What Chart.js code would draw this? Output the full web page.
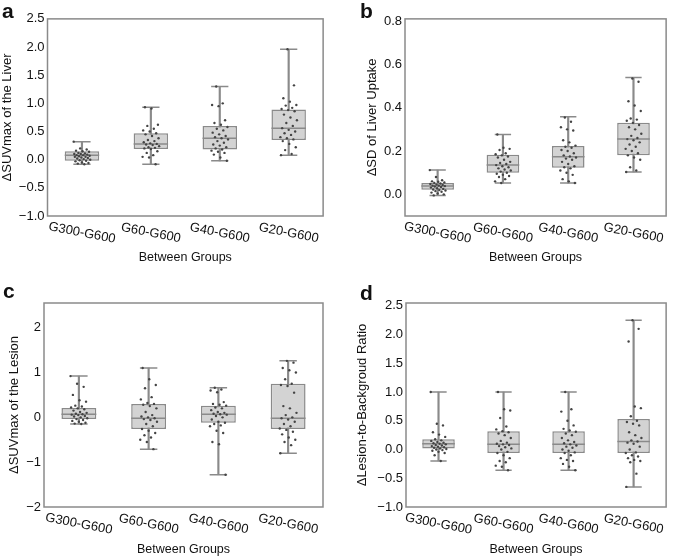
<!DOCTYPE html>
<html>
<head>
<meta charset="utf-8">
<script src="https://cdn.jsdelivr.net/npm/chart.js@4.4.0/dist/chart.umd.min.js"></script>
<style>
  body { margin: 0; background: #fff; }
  #wrap { position: relative; width: 685px; height: 558px; }
  canvas { position: absolute; }
</style>
</head>
<body>
<div id="wrap">
  <canvas id="pa" width="342" height="270" style="left:0;top:0"></canvas>
  <canvas id="pb" width="343" height="270" style="left:342px;top:0"></canvas>
  <canvas id="pc" width="342" height="288" style="left:0;top:270px"></canvas>
  <canvas id="pd" width="343" height="288" style="left:342px;top:270px"></canvas>
</div>
<script>
const groups = ['G300-G600', 'G60-G600', 'G40-G600', 'G20-G600'];

// a: ΔSUVmax of the liver
const aLow  = [-0.08, -0.08, -0.02, 0.08];
const aQ1   = [-0.02, 0.19, 0.18, 0.35];
const aMed  = [0.08, 0.28, 0.38, 0.56];
const aQ3   = [0.15, 0.47, 0.60, 0.89];
const aHigh = [0.32, 0.93, 1.30, 1.96];
const aPts = [
  [0.32, 0.20, 0.18, 0.16, 0.15, 0.14, 0.12, 0.11, 0.10, 0.10, 0.09, 0.08, 0.08, 0.07, 0.06, 0.05, 0.05, 0.04, 0.03, 0.02, 0.01, 0.00, -0.01, -0.02, -0.03, -0.05, -0.06, -0.07, -0.08],
  [0.93, 0.91, 0.62, 0.60, 0.55, 0.52, 0.50, 0.47, 0.45, 0.42, 0.38, 0.35, 0.33, 0.31, 0.29, 0.28, 0.27, 0.26, 0.24, 0.22, 0.21, 0.20, 0.19, 0.15, 0.12, 0.08, 0.05, 0.04, -0.08],
  [1.30, 1.00, 0.97, 0.95, 0.70, 0.65, 0.62, 0.58, 0.55, 0.52, 0.48, 0.45, 0.42, 0.40, 0.38, 0.36, 0.33, 0.30, 0.27, 0.25, 0.22, 0.20, 0.18, 0.16, 0.14, 0.12, 0.09, 0.04, -0.02],
  [1.96, 1.32, 1.09, 1.03, 0.97, 0.96, 0.92, 0.90, 0.88, 0.86, 0.80, 0.75, 0.70, 0.65, 0.60, 0.56, 0.53, 0.50, 0.47, 0.44, 0.40, 0.38, 0.36, 0.33, 0.28, 0.22, 0.17, 0.10, 0.08]
];

// b: ΔSD of liver uptake
const bLow  = [-0.005, 0.052, 0.052, 0.103];
const bQ1   = [0.021, 0.100, 0.123, 0.181];
const bMed  = [0.039, 0.135, 0.174, 0.256];
const bQ3   = [0.052, 0.183, 0.223, 0.330];
const bHigh = [0.112, 0.276, 0.358, 0.539];
const bPts = [
  [0.112, 0.08, 0.065, 0.06, 0.058, 0.055, 0.052, 0.05, 0.048, 0.045, 0.043, 0.04, 0.04, 0.038, 0.036, 0.034, 0.031, 0.028, 0.025, 0.022, 0.02, 0.018, 0.015, 0.012, 0.008, 0.004, 0.0, -0.005],
  [0.276, 0.215, 0.21, 0.205, 0.19, 0.185, 0.18, 0.175, 0.17, 0.16, 0.15, 0.145, 0.14, 0.135, 0.13, 0.125, 0.12, 0.115, 0.11, 0.105, 0.10, 0.095, 0.09, 0.085, 0.08, 0.07, 0.06, 0.052],
  [0.355, 0.335, 0.31, 0.30, 0.295, 0.25, 0.24, 0.225, 0.22, 0.215, 0.205, 0.20, 0.19, 0.18, 0.175, 0.17, 0.165, 0.16, 0.15, 0.14, 0.13, 0.125, 0.12, 0.11, 0.10, 0.09, 0.07, 0.06, 0.052],
  [0.535, 0.52, 0.43, 0.41, 0.385, 0.35, 0.345, 0.34, 0.33, 0.32, 0.31, 0.30, 0.28, 0.27, 0.26, 0.255, 0.25, 0.24, 0.23, 0.22, 0.21, 0.20, 0.19, 0.18, 0.17, 0.16, 0.125, 0.11, 0.103]
];

// c: ΔSUVmax of the lesion
const cLow  = [-0.15, -0.71, -1.28, -0.80];
const cQ1   = [-0.04, -0.26, -0.12, -0.26];
const cMed  = [0.07, -0.02, 0.07, -0.02];
const cQ3   = [0.21, 0.30, 0.26, 0.75];
const cHigh = [0.92, 1.10, 0.66, 1.26];
const cPts = [
  [0.92, 0.75, 0.68, 0.50, 0.38, 0.35, 0.26, 0.24, 0.22, 0.20, 0.18, 0.15, 0.12, 0.10, 0.08, 0.07, 0.06, 0.05, 0.03, 0.02, 0.00, -0.02, -0.04, -0.06, -0.08, -0.10, -0.12, -0.14, -0.15],
  [1.10, 0.85, 0.72, 0.65, 0.45, 0.40, 0.32, 0.30, 0.28, 0.25, 0.20, 0.12, 0.05, 0.02, 0.00, -0.02, -0.04, -0.06, -0.10, -0.15, -0.20, -0.26, -0.30, -0.35, -0.40, -0.45, -0.50, -0.55, -0.71],
  [0.66, 0.62, 0.60, 0.56, 0.34, 0.30, 0.28, 0.26, 0.22, 0.20, 0.16, 0.12, 0.10, 0.08, 0.07, 0.06, 0.03, 0.00, -0.05, -0.10, -0.12, -0.15, -0.18, -0.20, -0.30, -0.35, -0.55, -0.60, -1.28],
  [1.26, 1.22, 1.10, 1.05, 1.00, 0.85, 0.75, 0.72, 0.70, 0.55, 0.25, 0.20, 0.10, 0.05, 0.00, -0.02, -0.05, -0.10, -0.15, -0.20, -0.25, -0.28, -0.32, -0.38, -0.45, -0.50, -0.55, -0.62, -0.80]
];

// d: Δlesion-to-background ratio
const dLow  = [-0.20, -0.36, -0.36, -0.65];
const dQ1   = [0.02, -0.06, -0.06, -0.06];
const dMed  = [0.10, 0.09, 0.09, 0.14];
const dQ3   = [0.18, 0.32, 0.32, 0.53];
const dHigh = [1.00, 1.00, 1.00, 2.25];
const dPts = [
  [1.00, 0.45, 0.42, 0.30, 0.26, 0.22, 0.18, 0.16, 0.15, 0.13, 0.12, 0.11, 0.10, 0.09, 0.08, 0.07, 0.06, 0.05, 0.04, 0.03, 0.02, 0.01, 0.00, -0.01, -0.02, -0.04, -0.06, -0.10, -0.20],
  [1.00, 0.70, 0.68, 0.55, 0.40, 0.35, 0.32, 0.30, 0.28, 0.25, 0.20, 0.15, 0.12, 0.10, 0.09, 0.08, 0.06, 0.04, 0.02, 0.00, -0.04, -0.06, -0.10, -0.15, -0.20, -0.22, -0.28, -0.30, -0.36],
  [1.00, 0.70, 0.66, 0.50, 0.42, 0.36, 0.33, 0.31, 0.28, 0.25, 0.20, 0.16, 0.13, 0.11, 0.09, 0.07, 0.05, 0.03, 0.00, -0.02, -0.05, -0.06, -0.10, -0.15, -0.18, -0.20, -0.25, -0.30, -0.36],
  [2.25, 2.10, 1.88, 0.75, 0.72, 0.58, 0.50, 0.48, 0.45, 0.42, 0.30, 0.25, 0.20, 0.16, 0.14, 0.12, 0.10, 0.05, 0.00, -0.05, -0.06, -0.10, -0.12, -0.15, -0.18, -0.20, -0.22, -0.42, -0.65]
];

const FONT = '"Liberation Sans", Arial, sans-serif';
const GREY = '#8a8a8a';

// strip-plot spread, same for every group
function jitter(j) {
  return (((j * 11) % 29) / 28 - 0.5) * 0.24;
}

function panel(id, letter, yTitle, low, q1, med, q3, high, pts, y, geo) {
  const strip = [];
  pts.forEach((arr, i) => arr.forEach((v, j) => strip.push({ x: i + jitter(j + i * 3), y: v })));

  const areaW = c => (c.chart.chartArea ? c.chart.chartArea.right - c.chart.chartArea.left : 278);

  const extras = {
    id: 'extras' + letter,
    afterDraw(chart) {
      const { ctx, chartArea: a } = chart;
      const xs = chart.scales.x;
      ctx.save();
      ctx.strokeStyle = GREY;
      ctx.lineWidth = 1.5;
      ctx.strokeRect(a.left, a.top, a.right - a.left, a.bottom - a.top);
      // slanted group labels
      ctx.fillStyle = '#111';
      ctx.font = '13px ' + FONT;
      ctx.textAlign = 'center';
      ctx.textBaseline = 'middle';
      groups.forEach((g, i) => {
        ctx.save();
        ctx.translate(xs.getPixelForTick(i), a.bottom + 17);
        ctx.rotate(11 * Math.PI / 180);
        ctx.fillText(g, 0, 0);
        ctx.restore();
      });
      ctx.font = 'bold 21px ' + FONT;
      ctx.textAlign = 'left';
      ctx.textBaseline = 'alphabetic';
      ctx.fillText(letter, geo.lx, geo.ly);
      ctx.restore();
    }
  };

  return new Chart(document.getElementById(id), {
    type: 'bar',
    data: {
      labels: groups,
      datasets: [
        { type: 'scatter', xAxisID: 'xj', data: strip, pointRadius: 1.2, pointBackgroundColor: '#444', pointBorderWidth: 0, order: 0 },
        { type: 'line', data: med, showLine: false, pointStyle: 'line', pointRadius: c => areaW(c) / 16, pointBorderColor: GREY, pointBorderWidth: 1.5, order: 1 },
        { type: 'line', data: low, showLine: false, pointStyle: 'line', pointRadius: c => areaW(c) / 32, pointBorderColor: GREY, pointBorderWidth: 1.5, order: 1 },
        { type: 'line', data: high, showLine: false, pointStyle: 'line', pointRadius: c => areaW(c) / 32, pointBorderColor: GREY, pointBorderWidth: 1.5, order: 1 },
        { type: 'bar', data: q1.map((v, i) => [v, q3[i]]), backgroundColor: '#d3d3d3', borderColor: GREY, borderWidth: 1.5, borderSkipped: false, barPercentage: 0.5, categoryPercentage: 1, grouped: false, order: 2 },
        { type: 'bar', data: low.map((v, i) => [v, high[i]]), backgroundColor: GREY, barThickness: 1.5, grouped: false, order: 3 }
      ]
    },
    options: {
      responsive: false,
      animation: false,
      events: [],
      layout: { padding: { left: geo.pl, right: geo.pr, top: geo.pt, bottom: 0 } },
      plugins: { legend: { display: false }, tooltip: { enabled: false } },
      scales: {
        x: {
          grid: { display: false, drawTicks: false },
          border: { display: false },
          ticks: { display: false },
          title: { display: true, text: 'Between Groups', color: '#111', font: { size: 12.5, family: FONT }, padding: { top: 0, bottom: geo.tb } },
          afterFit: s => { s.height = geo.xh; }
        },
        xj: { type: 'linear', axis: 'x', display: false, offset: false, grid: { offset: false }, min: -0.5, max: 3.5 },
        y: {
          min: y.min,
          max: y.max,
          grid: { display: false, drawTicks: false },
          border: { display: false },
          ticks: {
            stepSize: y.step,
            includeBounds: false,
            padding: 3,
            color: '#111',
            font: { size: 13, family: FONT },
            callback: v => (Math.abs(v) < 1e-9 ? 0 : v).toFixed(y.dec).replace('-', '\u2212')
          },
          title: { display: true, text: yTitle, color: '#111', font: { size: 13, family: FONT }, padding: 0 },
          afterFit: s => { s.width = geo.yw; }
        }
      }
    },
    plugins: [extras]
  });
}

panel('pa', 'a', '\u0394SUVmax of the Liver', aLow, aQ1, aMed, aQ3, aHigh, aPts,
  { min: -1, max: 2.5, step: 0.5, dec: 1 },
  { pl: 0, pr: 17, pt: 14, yw: 47.5, xh: 54, tb: 4.5, lx: 2, ly: 18 });
panel('pb', 'b', '\u0394SD of Liver Uptake', bLow, bQ1, bMed, bQ3, bHigh, bPts,
  { min: -0.1, max: 0.81, step: 0.2, dec: 1 },
  { pl: 23, pr: 2, pt: 14, yw: 40, xh: 54, tb: 4.5, lx: 18, ly: 18 });
panel('pc', 'c', '\u0394SUVmax of the Lesion', cLow, cQ1, cMed, cQ3, cHigh, cPts,
  { min: -2, max: 2.55, step: 1, dec: 0 },
  { pl: 7, pr: 19, pt: 33, yw: 37, xh: 51, tb: 0.5, lx: 3, ly: 28 });
panel('pd', 'd', '\u0394Lesion-to-Backgroud Ratio', dLow, dQ1, dMed, dQ3, dHigh, dPts,
  { min: -1, max: 2.55, step: 0.5, dec: 1 },
  { pl: 13, pr: 2, pt: 33, yw: 51, xh: 51, tb: 0.5, lx: 18, ly: 30 });
</script>
</body>
</html>
